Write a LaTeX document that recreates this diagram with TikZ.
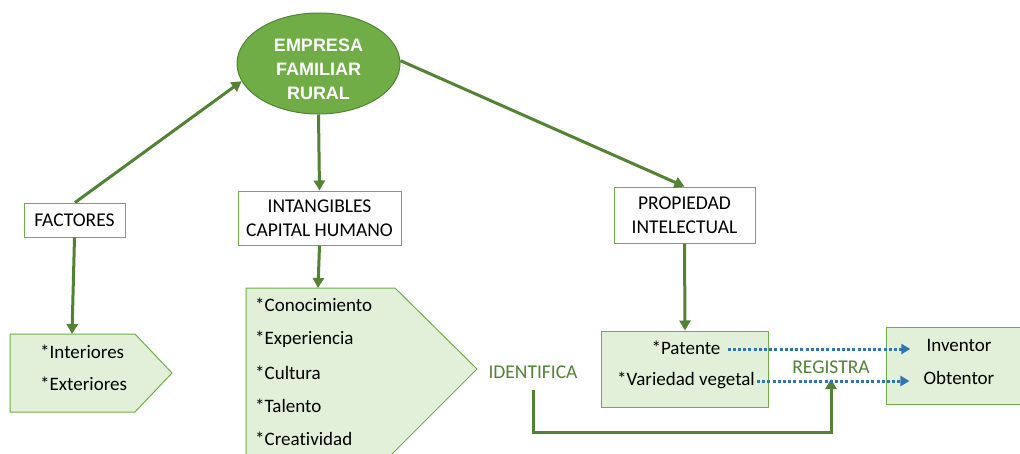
\documentclass[tikz,border=0pt]{standalone}
\usepackage{fontspec}
\setmainfont{Carlito}[Ligatures=NoCommon]
\newfontfamily\arialb{Liberation Sans}
\usetikzlibrary{arrows.meta,shapes.geometric}
\definecolor{dkgreen}{HTML}{548235}
\definecolor{midgreen}{HTML}{70AD47}
\definecolor{ltgreen}{HTML}{E2F0D9}
\definecolor{txtgreen}{HTML}{538135}
\definecolor{dotblue}{HTML}{2E75B6}
\begin{document}
\begin{tikzpicture}[x=1pt,y=-1pt,
  conn/.style={draw=dkgreen,line width=3pt,-{Triangle[length=10pt,width=11pt]}},
  dotarrow/.style={draw=dotblue,line width=3pt,dash pattern=on 3pt off 2.2pt,-{Triangle[length=9pt,width=10pt]}},
  wbox/.style={draw=midgreen,line width=1pt,fill=white,align=center,font=\fontsize{19.5}{24.5}\selectfont,inner sep=0pt},
  lbox/.style={draw=midgreen,line width=1pt,fill=ltgreen},
  txt/.style={font=\fontsize{19}{24}\selectfont,inner sep=2pt},
  gtxt/.style={txt,font=\fontsize{19.5}{24}\selectfont,text=txtgreen}]
\useasboundingbox (0,0) rectangle (1020,453);
\clip (0,0) rectangle (1020,453);
\fill[white] (0,0) rectangle (1020,453);

% central ellipse
\node[ellipse,fill=midgreen,draw=dkgreen,line width=1pt,minimum width=163pt,minimum height=101pt,inner sep=0pt] (emp) at (318.5,63.5) {};
\node[font=\arialb\bfseries\fontsize{18}{24}\selectfont,text=white,align=center] (emptxt) at (318.5,69) {EMPRESA\\FAMILIAR\\RURAL};

% white boxes
\node[wbox,minimum width=101pt,minimum height=34pt] (fac) at (74.5,220) {FACTORES};
\node[wbox,minimum width=163pt,minimum height=54pt] (intang) at (319.5,218) {INTANGIBLES\\CAPITAL HUMANO};
\node[wbox,minimum width=141pt,minimum height=56pt] (prop) at (684.5,215) {PROPIEDAD\\INTELECTUAL};

% Interiores pentagon
\draw[lbox] (10,334) -- (135,334) -- (172,373) -- (135,412) -- (10,412) -- cycle;
\coordinate (inttop) at (72,334);
\node[txt,anchor=west] (interiores) at (38,352) {*Interiores};
\node[txt,anchor=west] (exteriores) at (38,384) {*Exteriores};

% Conocimiento pentagon
\draw[lbox] (246,288) -- (395,288) -- (477,369) -- (391,455) -- (246,455) -- cycle;
\coordinate (contop) at (318,288);
\node[txt,anchor=west] (c1) at (253,305) {*Conocimiento};
\node[txt,anchor=west] (c2) at (253,339) {*Experiencia};
\node[txt,anchor=west] (c3) at (253,373) {*Cultura};
\node[txt,anchor=west] (c4) at (253,406) {*Talento};
\node[txt,anchor=west] (c5) at (253,439) {*Creatividad};

% Patente box
\node[lbox,minimum width=167pt,minimum height=76pt] (pat) at (685,369) {};
\node[txt] (patente) at (686,348) {*Patente};
\node[txt] (variedad) at (686,380) {*Variedad vegetal};

% Inventor box
\node[lbox,minimum width=134pt,minimum height=77pt] (inv) at (953,365.5) {};
\node[txt] (inventor) at (959,345) {Inventor};
\node[txt] (obtentor) at (959,378) {Obtentor};

% labels
\node[gtxt] (identifica) at (533,372) {IDENTIFICA};
\node[gtxt] (registra) at (831,367) {REGISTRA};
\coordinate (regpt) at (831,379);

% connectors
\draw[conn] (fac.north) ++(0.5,0) -- (emp.193);
\draw[conn] (emp.south) -- (intang.north);
\draw[conn] (emp.2) -- (prop.north);
\draw[conn] (fac.south) -- (inttop);
\draw[conn] (intang.south) -- (contop);
\draw[conn] (prop.south) -- (pat.north);
\draw[conn,shorten <=9pt] (identifica.south) -- ++(0,52) -| (regpt);

\draw[dotarrow,shorten <=5pt,shorten >=14pt] (patente.east |- 0,349) -- (inventor.west |- 0,349);
\draw[dotarrow,shorten >=12pt] (variedad.east |- 0,381) -- (obtentor.west |- 0,381);
\end{tikzpicture}
\end{document}
